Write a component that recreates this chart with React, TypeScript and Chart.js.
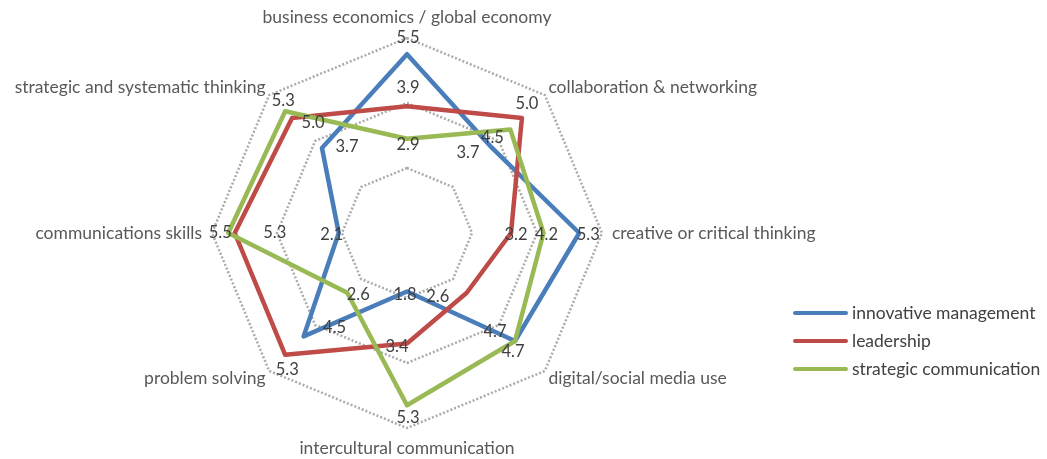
import React, { useEffect, useRef } from "react";
import { Chart, registerables } from "chart.js";

Chart.register(...registerables);

const categories = [
  "business economics / global economy",
  "collaboration & networking",
  "creative or critical thinking",
  "digital/social media use",
  "intercultural communication",
  "problem solving",
  "communications skills",
  "strategic and systematic thinking",
];

const seriesNames = ["innovative management", "leadership", "strategic communication"];
const innovativeManagement = [5.5, 3.7, 5.3, 4.7, 1.8, 4.5, 2.1, 3.7];
const leadership = [3.9, 5.0, 3.2, 2.6, 3.4, 5.3, 5.3, 5.0];
const strategicCommunication = [2.9, 4.5, 4.2, 4.7, 5.3, 2.6, 5.5, 5.3];
const seriesColors = ["#4A7EBB", "#BE4B48", "#98B954"];

// pixel nudges of the value labels relative to their points (style only)
const labelNudges = [
  [[1, -17], [-24, 5], [9, 2], [-20, -9], [-2, 3], [31, -9], [-7, 2], [25, -1]],
  [[1, -19], [5, -14], [5, 2], [-29, 4], [-10, 3], [2, 15], [40, 0], [21, 5]],
  [[1, 6], [-18, 8], [3, 2], [-2, 11], [1, 12], [11, 2], [-8, 0], [-2, -11]],
];

const FONT = "Lato, 'Open Sans', sans-serif";
const CANVAS_SHIFT = 40;

const valueLabelPlugin = {
  id: "valueLabels",
  afterDatasetsDraw(chart: any) {
    const ctx = chart.ctx;
    ctx.save();
    ctx.font = `16.5px ${FONT}`;
    ctx.fillStyle = "#404040";
    ctx.textAlign = "center";
    ctx.textBaseline = "middle";
    chart.data.datasets.forEach((ds: any, d: number) => {
      const meta = chart.getDatasetMeta(d);
      meta.data.forEach((el: any, i: number) => {
        const n = labelNudges[d][i];
        ctx.fillText(Number(ds.data[i]).toFixed(1), el.x + n[0], el.y + n[1]);
      });
    });
    ctx.restore();
  },
};

export default function App() {
  const ref = useRef<HTMLCanvasElement>(null);
  useEffect(() => {
    if (!ref.current) return;
    const all = [innovativeManagement, leadership, strategicCommunication];
    const chart = new Chart(ref.current, {
      type: "radar",
      data: {
        labels: categories,
        datasets: all.map((data, i) => ({
          label: seriesNames[i],
          data,
          borderColor: seriesColors[i],
          backgroundColor: "transparent",
          borderWidth: 4.5,
          pointRadius: 0,
          pointHoverRadius: 0,
          fill: false,
          tension: 0,
          borderJoinStyle: "round" as const,
          order: 2 - i,
        })),
      },
      options: {
        responsive: false,
        animation: false,
        layout: { padding: { left: 0, right: 193, top: 7, bottom: 0 } },
        plugins: { legend: { display: false }, tooltip: { enabled: false } },
        scales: {
          r: {
            min: 0,
            max: 6,
            ticks: { stepSize: 2, display: false },
            angleLines: { display: false },
            grid: { circular: false, color: "#ABABAB", lineWidth: 2.5 },
            border: { dash: [2, 2] },
            pointLabels: {
              color: "#595959",
              font: (c: any) => ({
                family: FONT,
                size: 17.5,
                lineHeight: c.index % 2 === 0 ? 1.2 : 0.45,
              }),
              padding: (c: any) => (c.index % 2 === 0 ? 10 : 5),
            },
          },
        },
      },
      plugins: [valueLabelPlugin],
    });
    return () => chart.destroy();
  }, []);

  const legendY = [313, 341, 369];
  return (
    <div style={{ position: "fixed", left: 0, top: 0, width: 1047, height: 459, background: "#fff", overflow: "hidden" }}>
      <canvas
        ref={ref}
        width={1047 + CANVAS_SHIFT}
        height={459}
        style={{ position: "absolute", left: -CANVAS_SHIFT, top: 0 }}
      />
      {seriesNames.map((name, i) => (
        <div key={name}>
          <div
            style={{
              position: "absolute",
              left: 793,
              top: legendY[i] - 2,
              width: 55,
              height: 4,
              borderRadius: 2,
              background: seriesColors[i],
            }}
          />
          <div
            style={{
              position: "absolute",
              left: 852,
              top: legendY[i] - 12,
              height: 24,
              lineHeight: "24px",
              fontFamily: FONT,
              fontSize: 17.5,
              color: "#404040",
              whiteSpace: "nowrap",
            }}
          >
            {name}
          </div>
        </div>
      ))}
    </div>
  );
}
